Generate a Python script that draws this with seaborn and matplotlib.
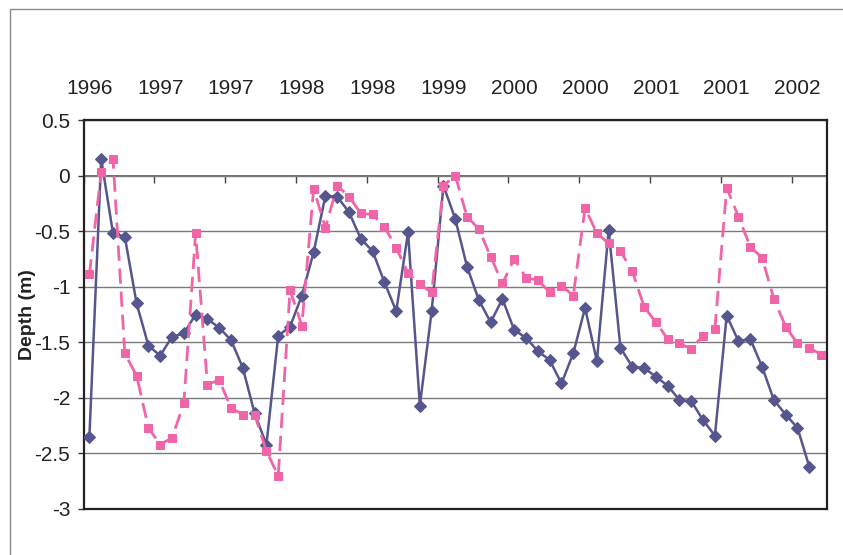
"""
Depth record 1996-2002, two monitoring series, Excel-style chart.
"""

import matplotlib
matplotlib.use('Agg')
import matplotlib.pyplot as plt
from matplotlib.patches import Rectangle
import numpy as np
import pandas as pd
import seaborn as sns

series_a = [-2.35, 0.15, -0.52, -0.55, -1.15, -1.53, -1.62, -1.45, -1.42, -1.25,
            -1.29, -1.37, -1.48, -1.73, -2.14, -2.42, -1.44, -1.36, -1.08, -0.69,
            -0.18, -0.19, -0.33, -0.57, -0.68, -0.96, -1.22, -0.51, -2.07, -1.22,
            -0.09, -0.39, -0.82, -1.12, -1.32, -1.11, -1.39, -1.46, -1.58, -1.66,
            -1.87, -1.60, -1.19, -1.67, -0.49, -1.55, -1.72, -1.73, -1.81, -1.89,
            -2.02, -2.03, -2.20, -2.34, -1.26, -1.49, -1.47, -1.72, -2.02, -2.15,
            -2.27, -2.62]
series_b = [-0.89, 0.03, 0.15, -1.60, -1.80, -2.27, -2.42, -2.36, -2.05, -0.52,
            -1.88, -1.84, -2.09, -2.15, -2.15, -2.48, -2.70, -1.03, -1.35, -0.12,
            -0.47, -0.09, -0.19, -0.34, -0.35, -0.46, -0.65, -0.88, -0.98, -1.05,
            -0.09, 0.00, -0.37, -0.48, -0.73, -0.97, -0.75, -0.92, -0.94, -1.05,
            -0.99, -1.08, -0.29, -0.52, -0.61, -0.68, -0.86, -1.18, -1.32, -1.47,
            -1.51, -1.56, -1.44, -1.38, -0.11, -0.37, -0.64, -0.74, -1.11, -1.36,
            -1.51, -1.55, -1.61]
# year shown for every sixth survey
year_labels = ['1996', '1997', '1997', '1998', '1998', '1999',
               '2000', '2000', '2001', '2001', '2002']
y_ticks = [0.5, 0, -0.5, -1, -1.5, -2, -2.5, -3]
y_tick_labels = ['0.5', '0', '-0.5', '-1', '-1.5', '-2', '-2.5', '-3']

blue = '#56568f'
pink = '#f064a8'
grey = '#7a7a7a'

sns.set_style('white')
plt.rcParams['font.family'] = ['Liberation Sans', 'DejaVu Sans']

df_a = pd.DataFrame({'sample': np.arange(len(series_a)), 'depth': series_a})
df_b = pd.DataFrame({'sample': np.arange(len(series_b)), 'depth': series_b})

fig = plt.figure(figsize=(8.43, 5.55), dpi=100)
ax = fig.add_axes([83.5 / 843, 1 - 509 / 555, 743.5 / 843, 389 / 555])

for y in y_ticks:
    ax.axhline(y, color=grey, lw=1.0, zorder=1)

sns.lineplot(data=df_a, x='sample', y='depth', ax=ax, estimator=None,
             color=blue, lw=1.8, marker='D', markersize=6.5,
             markeredgecolor=blue, markerfacecolor=blue, zorder=3)
sns.lineplot(data=df_b, x='sample', y='depth', ax=ax, estimator=None,
             color=pink, lw=2.0, linestyle=(0, (5.5, 2.8)), marker='s',
             markersize=6, markeredgecolor=pink, markerfacecolor=pink,
             zorder=4)

n_cat = len(series_b)
ax.set_xlim(-0.5, n_cat - 0.5)
ax.set_ylim(-3, 0.5)

# category labels on top, every sixth survey
ax.xaxis.tick_top()
ax.set_xticks(np.arange(0, n_cat, 6))
ax.set_xticklabels(year_labels)
ax.tick_params(axis='x', length=0, pad=16, labelsize=15, labelcolor='#222222')
ax.set_xlabel('')

ax.set_yticks(y_ticks)
ax.set_yticklabels(y_tick_labels)
ax.tick_params(axis='y', direction='out', length=4.5, width=1, color='#333333',
               pad=5, labelsize=15, labelcolor='#222222', left=True)
ax.set_ylabel('Depth (m)', fontsize=14, fontweight='bold', color='#222222')
ax.yaxis.set_label_coords(-0.064, 0.5)

for side in ['left', 'right', 'top', 'bottom']:
    ax.spines[side].set_visible(True)
    ax.spines[side].set_color('#222222')
    ax.spines[side].set_linewidth(1.6)

# the category axis crosses at zero: tick marks at category boundaries
cross = ax.secondary_xaxis(3 / 3.5)
cross.set_xticks(np.arange(-0.5, n_cat - 1, 6))
cross.tick_params(direction='in', length=5, width=1, color='#444444',
                  labeltop=False, labelbottom=False)
cross.spines['top'].set_color('#555555')
cross.spines['top'].set_linewidth(1.2)

# outer chart-area border
fig.add_artist(Rectangle((10 / 843, -0.1), 1.2, 0.1 + 1 - 9 / 555,
                         transform=fig.transFigure, fill=False,
                         edgecolor='#8a8a8a', lw=1.0))

fig.savefig('out.png', dpi=100)
